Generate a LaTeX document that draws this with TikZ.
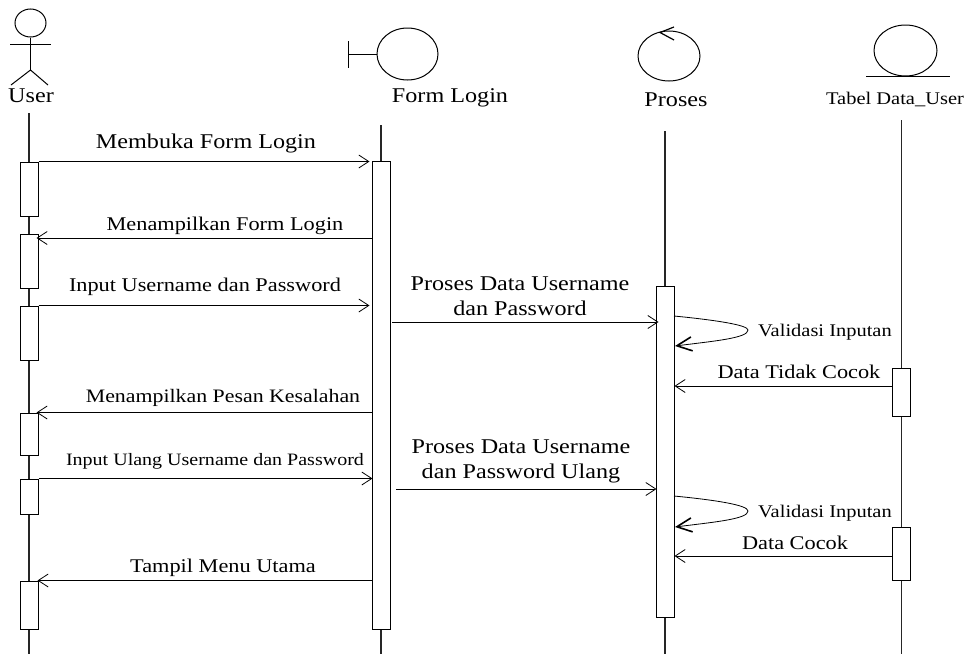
\documentclass[tikz,border=0pt]{standalone}
\usepackage{fontspec}
\setmainfont[FakeStretch=1.15]{Liberation Serif}
\usetikzlibrary{shapes.geometric, arrows.meta, positioning}
\tikzset{
  lifeline/.style={line width=1.3pt,black!85},
  actbar/.style={draw,line width=1pt,fill=white,minimum width=18pt,inner sep=0pt},
  icon/.style={draw,ellipse,line width=1pt,inner sep=0pt},
  msg/.style={->,line width=0.8pt},
  selfmsg/.style={line width=0.8pt},
  selfback/.style={-{Straight Barb[length=15pt,width=14pt,line width=1.6pt]},line width=0.8pt},
  txtbig/.style={inner sep=0pt,align=center,font=\fontsize{21}{25}\selectfont},
  txtmid/.style={inner sep=0pt,align=center,font=\fontsize{19.4}{23}\selectfont},
  txtlow/.style={inner sep=0pt,align=center,font=\fontsize{19}{23}\selectfont},
  txtsmall/.style={inner sep=0pt,align=center,font=\fontsize{17.8}{20}\selectfont},
  txttiny/.style={inner sep=0pt,align=center,font=\fontsize{17.4}{20}\selectfont},
  >={Straight Barb[length=10pt,width=13pt]}
}

\begin{document}
\begin{tikzpicture}[x=1pt,y=-1pt]
\useasboundingbox (0,0) rectangle (967,656);

% User
\node[icon,minimum width=31pt,minimum height=28pt] (userhead) at (30.5,23) {};
\coordinate (userhip) at (30.5,70);
\coordinate (userarml) at (10,44.5);
\coordinate (userarmr) at (51,44.5);
\coordinate (userlegl) at (11,85);
\coordinate (userlegr) at (48,85);
\draw[line width=1pt] (userhead.south) -- (userhip);
\draw[line width=1pt] (userarml) -- (userarmr);
\draw[line width=1pt] (userlegl) -- (userhip) -- (userlegr);
\node[txtbig] (usertxt) at (31,96) {User};

% Form Login
\node[icon,minimum width=61pt,minimum height=52pt] (formicon) at (407.5,54) {};
\coordinate (formstem) at (348,54);
\coordinate (formtop) at (348,41);
\coordinate (formbot) at (348,68);
\draw[line width=1pt] (formtop) -- (formbot);
\draw[line width=1pt] (formstem) -- (formicon.west);
\node[txtbig] (formtxt) at (450,98) {Form Login};

% Proses
\node[icon,minimum width=62pt,minimum height=50pt] (procicon) at (669,56) {};
\coordinate (proctipa) at (674,27);
\coordinate (proctip) at (660,32.5);
\coordinate (proctipb) at (674,40);
\draw[line width=1.2pt] (proctipa) -- (proctip) -- (proctipb);
\node[txtbig] (proctxt) at (676,99.5) {Proses};

% Tabel Data_User
\node[icon,minimum width=63pt,minimum height=51pt] (tblicon) at (905.5,50.5) {};
\coordinate (tblbasea) at (866,76);
\coordinate (tblbaseb) at (950,76);
\draw[line width=1pt] (tblbasea) -- (tblbaseb);
\node[txtsmall] (tbltxt) at (895,99) {Tabel Data\_User};

% Lifelines
\coordinate (usertop) at (29,113);
\coordinate (userend) at (29,654);
\coordinate (formlinetop) at (381,125);
\coordinate (formend) at (381,654);
\coordinate (proctop) at (665,131);
\coordinate (procend) at (665,654);
\coordinate (tbltop) at (901.5,120);
\coordinate (tblend) at (901.5,654);
\draw[lifeline] (usertop) -- (userend);
\draw[lifeline] (formlinetop) -- (formend);
\draw[lifeline] (proctop) -- (procend);
\draw[lifeline] (tbltop) -- (tblend);

% Activation bars
\node[actbar,minimum height=54pt] (u1) at (29,189) {};
\node[actbar,minimum height=54pt] (u2) at (29,261) {};
\node[actbar,minimum height=54pt] (u3) at (29,333) {};
\node[actbar,minimum height=42pt] (u4) at (29,434) {};
\node[actbar,minimum height=35pt] (u5) at (29,496.5) {};
\node[actbar,minimum height=48pt] (u6) at (29,605) {};
\node[actbar,minimum height=468pt] (fbar) at (381,395) {};
\node[actbar,minimum height=331pt] (pbar) at (665,451.5) {};
\node[actbar,minimum height=48pt] (t1) at (901.5,392) {};
\node[actbar,minimum height=53pt] (t2) at (901.5,553.5) {};

% Messages
\draw[msg] (u1.north east) -- ([xshift=-2pt]fbar.west |- u1.north east);
\node[txtbig] (m1) at (206,143) {Membuka Form Login};

\coordinate (m2y) at (0,238);
\draw[msg] (fbar.west |- m2y) -- ([xshift=-2pt]u2.east |- m2y);
\node[txtmid] (m2) at (225,226) {Menampilkan Form Login};

\draw[msg] (u3.north east) -- ([xshift=-2pt]fbar.west |- u3.north east);
\node[txtmid] (m3) at (205,287) {Input Username dan Password};

\coordinate (m4a) at (392,322);
\draw[msg] (m4a) -- ([xshift=3pt]pbar.west |- m4a);
\node[txtbig] (m4) at (520,296) {Proses Data Username\\dan Password};

\coordinate (s1a) at (674,316);
\coordinate (s1b) at (748,330);
\coordinate (s1c) at (675,346);
\draw[selfmsg] (s1a) .. controls (715,320) and (748,325) .. (s1b);
\draw[selfback] (s1b) .. controls (748,338) and (715,341) .. (s1c);
\node[txtsmall] (s1) at (825,332) {Validasi Inputan};

\coordinate (m5y) at (0,386);
\draw[msg] (t1.west |- m5y) -- (pbar.east |- m5y);
\node[txtmid] (m5) at (799,372) {Data Tidak Cocok};

\draw[msg] (fbar.west |- u4.north) -- ([xshift=-2pt]u4.north east);
\node[txtlow] (m6) at (223,398) {Menampilkan Pesan Kesalahan};

\draw[msg] (u5.north east) -- ([xshift=1pt]fbar.west |- u5.north east);
\node[txttiny] (m7) at (215,461) {Input Ulang Username dan Password};

\coordinate (m8a) at (396,489);
\draw[msg] (m8a) -- ([xshift=1pt]pbar.west |- m8a);
\node[txtbig] (m8) at (521,461) {Proses Data Username\\dan Password Ulang};

\coordinate (s2a) at (674,496);
\coordinate (s2b) at (748,511);
\coordinate (s2c) at (675,527);
\draw[selfmsg] (s2a) .. controls (715,500) and (748,505) .. (s2b);
\draw[selfback] (s2b) .. controls (748,519) and (715,522) .. (s2c);
\node[txtsmall] (s2) at (825,513) {Validasi Inputan};

\coordinate (m9y) at (0,556);
\draw[msg] (t2.west |- m9y) -- (pbar.east |- m9y);
\node[txtmid] (m9) at (795,543) {Data Cocok};

\draw[msg] (fbar.west |- u6.north) -- ([xshift=-1pt]u6.north east);
\node[txtmid] (m10) at (223,568) {Tampil Menu Utama};
\end{tikzpicture}
\end{document}
